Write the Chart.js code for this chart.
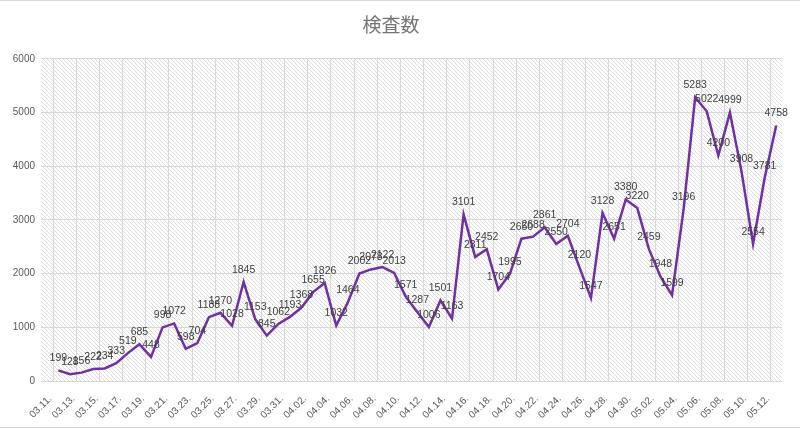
<!DOCTYPE html>
<html>
<head>
<meta charset="utf-8">
<script src="https://cdn.jsdelivr.net/npm/chart.js@4/dist/chart.umd.min.js"></script>
<style>
  html, body { margin: 0; padding: 0; background: #fff; }
  #wrap { width: 800px; height: 428px; }
</style>
</head>
<body>
<div id="wrap"><canvas id="lineChart"></canvas></div>
<script>
// data
var dates = ["03.11.","03.12.","03.13.","03.14.","03.15.","03.16.","03.17.","03.18.","03.19.","03.20.",
  "03.21.","03.22.","03.23.","03.24.","03.25.","03.26.","03.27.","03.28.","03.29.","03.30.","03.31.",
  "04.01.","04.02.","04.03.","04.04.","04.05.","04.06.","04.07.","04.08.","04.09.","04.10.",
  "04.11.","04.12.","04.13.","04.14.","04.15.","04.16.","04.17.","04.18.","04.19.","04.20.",
  "04.21.","04.22.","04.23.","04.24.","04.25.","04.26.","04.27.","04.28.","04.29.","04.30.",
  "05.01.","05.02.","05.03.","05.04.","05.05.","05.06.","05.07.","05.08.","05.09.","05.10.",
  "05.11.","05.12."];
var tests = [199,128,156,222,234,333,519,685,448,998,
  1072,598,704,1188,1270,1028,1845,1153,845,1062,1193,
  1368,1655,1826,1032,1464,2002,2078,2122,2013,1571,
  1287,1006,1501,1163,3101,2311,2452,1704,1995,2650,
  2688,2861,2550,2704,2120,1547,3128,2651,3380,3220,
  2459,1948,1599,3196,5283,5022,4200,4999,3908,2554,
  3781,4758];
var yTicks = [0,1000,2000,3000,4000,5000,6000];
var chartTitle = "検査数";

var points = [];
for (i = 0; i < tests.length; i++) {
    points.push({x: i, y: tests[i]});
}
var labelIdx = [];
for (i = 0; i < dates.length; i += 2) labelIdx.push(i);

// hatched background tile
function hatch() {
    var c = document.createElement("canvas");
    c.width = 4; c.height = 4;
    var g = c.getContext("2d");
    g.fillStyle = "#ffffff";
    g.fillRect(0, 0, 4, 4);
    g.strokeStyle = "#dedede";
    g.lineWidth = 1;
    g.beginPath();
    g.moveTo(-1, -1); g.lineTo(5, 5);
    g.moveTo(-1, 3); g.lineTo(1, 5);
    g.moveTo(3, -1); g.lineTo(5, 1);
    g.stroke();
    return c;
}

var bgPlugin = {
    id: "bg",
    beforeDraw: function(chart) {
        var ctx = chart.ctx, a = chart.chartArea, xs = chart.scales.x;
        ctx.save();
        ctx.fillStyle = ctx.createPattern(hatch(), "repeat");
        ctx.fillRect(a.left, a.top, a.right - a.left, a.bottom - a.top);
        ctx.strokeStyle = "#d9d9d9";
        ctx.lineWidth = 1;
        ctx.beginPath();
        for (var v = -0.5; v < dates.length; v += 2) {
            var px = Math.round(xs.getPixelForValue(v)) + 0.5;
            ctx.moveTo(px, a.top);
            ctx.lineTo(px, a.bottom);
        }
        ctx.stroke();
        // frame lines top and bottom
        ctx.beginPath();
        ctx.moveTo(0, 0.5); ctx.lineTo(chart.width, 0.5);
        ctx.moveTo(0, chart.height - 0.5); ctx.lineTo(chart.width, chart.height - 0.5);
        ctx.stroke();
        ctx.restore();
    }
};

var valueLabels = {
    id: "valueLabels",
    afterDatasetsDraw: function(chart) {
        var ctx = chart.ctx;
        var meta = chart.getDatasetMeta(0);
        ctx.save();
        ctx.font = "10.5px 'Liberation Sans', Arial, sans-serif";
        ctx.fillStyle = "#404040";
        ctx.textAlign = "center";
        ctx.textBaseline = "middle";
        meta.data.forEach(function(p, i) {
            ctx.fillText(tests[i], p.x, p.y - 12);
        });
        ctx.restore();
    }
};

new Chart(document.getElementById("lineChart").getContext("2d"), {
    type: "line",
    data: {
        datasets: [{
            label: chartTitle,
            data: points,
            borderColor: "#7030a0",
            borderWidth: 2.5,
            backgroundColor: "transparent",
            pointRadius: 0,
            tension: 0
        }]
    },
    options: {
        responsive: true,
        maintainAspectRatio: false,
        animation: false,
        layout: { padding: { left: 0, right: 18, top: 0, bottom: 0 } },
        plugins: {
            legend: false,
            tooltip: { enabled: false },
            title: {
                display: true,
                text: chartTitle,
                color: "#757575",
                font: { family: "'Noto Sans CJK JP', sans-serif", size: 19, weight: "normal" },
                padding: { top: 13, bottom: 23 }
            }
        },
        scales: {
            x: {
                type: "linear",
                min: -1.5,
                max: dates.length - 0.5,
                afterBuildTicks: function(scale) {
                    scale.ticks = labelIdx.map(function(v) { return {value: v}; });
                },
                afterFit: function(scale) { scale.height = 47; },
                grid: { display: false },
                border: { display: false },
                ticks: {
                    autoSkip: false,
                    maxRotation: 45,
                    minRotation: 45,
                    padding: 4,
                    labelOffset: -8,
                    color: "#595959",
                    font: { family: "'Liberation Sans', Arial, sans-serif", size: 10 },
                    callback: function(value) { return dates[value]; }
                }
            },
            y: {
                min: 0,
                max: 6000,
                afterBuildTicks: function(scale) {
                    scale.ticks = yTicks.map(function(v) { return {value: v}; });
                },
                afterFit: function(scale) { scale.width = 41; },
                grid: { color: "#d9d9d9", drawTicks: false },
                border: { display: false },
                ticks: {
                    padding: 6,
                    color: "#595959",
                    font: { family: "'Liberation Sans', Arial, sans-serif", size: 10 },
                    callback: function(value) { return String(value); }
                }
            }
        }
    },
    plugins: [bgPlugin, valueLabels]
});
</script>
</body>
</html>
